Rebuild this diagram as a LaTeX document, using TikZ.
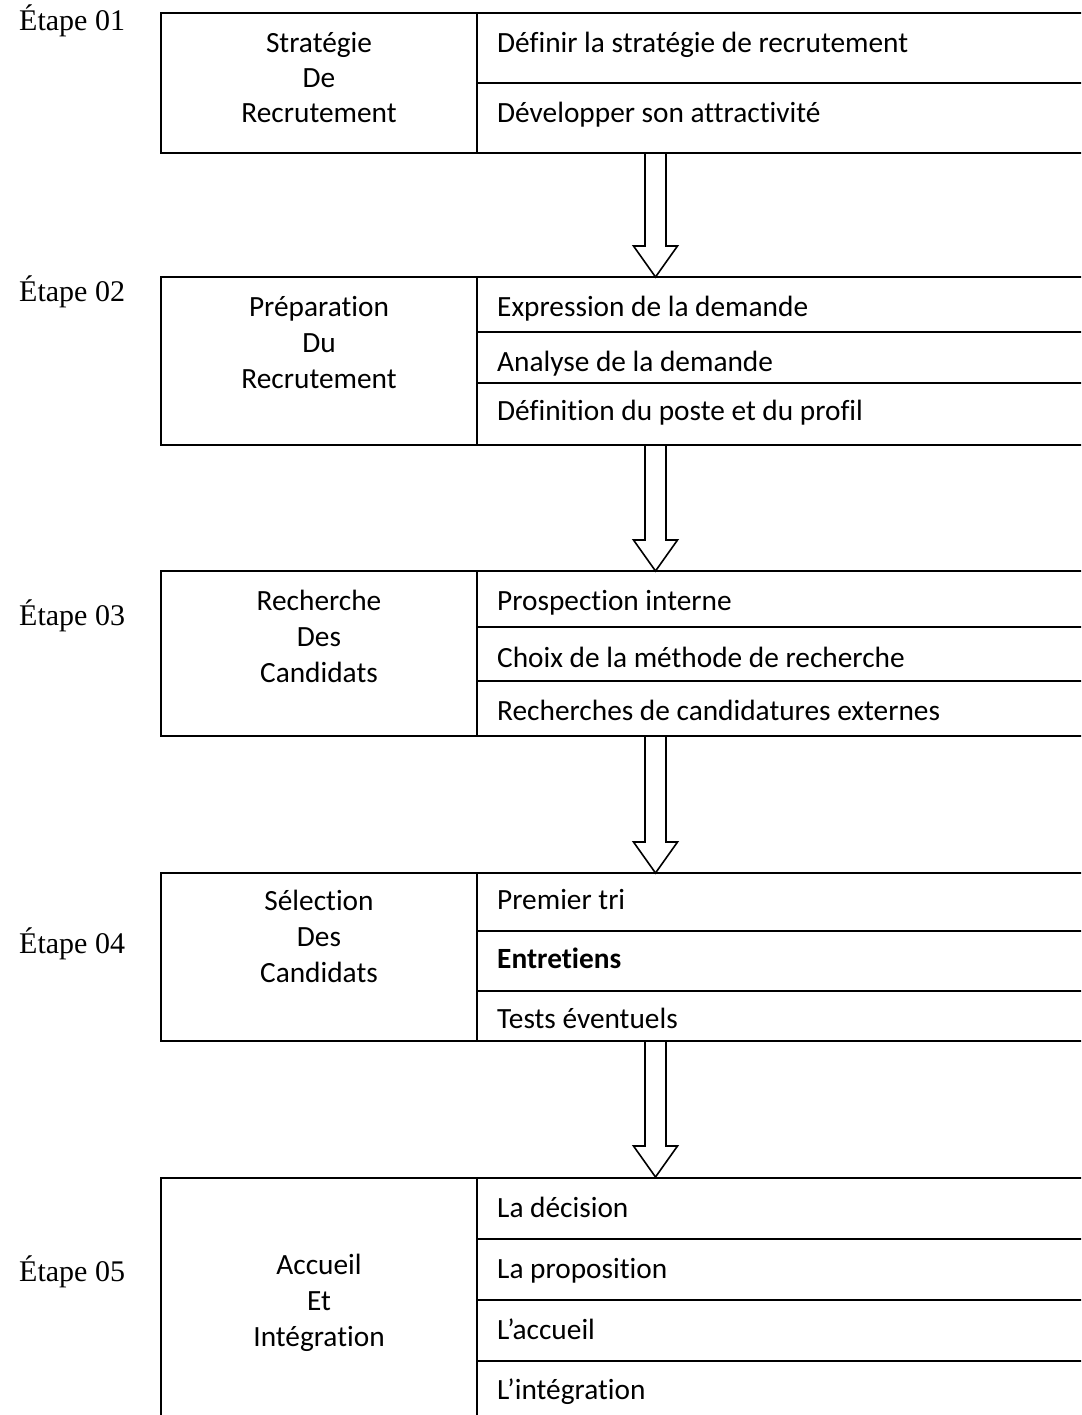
\documentclass[tikz,border=0pt]{standalone}
\usepackage{fontspec}
\setmainfont{Carlito}[Ligatures={NoCommon}]
\newfontfamily\timesf{Liberation Serif}
\usetikzlibrary{calc}
\begin{document}
\begin{tikzpicture}[x=1pt,y=-1pt,
  rule/.style={line width=1.8pt,black},
  item/.style={anchor=base west,inner sep=0pt,font=\fontsize{29.33}{35}\selectfont},
  head/.style={anchor=base,inner sep=0pt,font=\fontsize{29.33}{35}\selectfont},
  stage/.style={anchor=base west,inner sep=0pt,font=\timesf\fontsize{30}{36}\selectfont},
  blockarrow/.style={line width=1.6pt,line join=miter}]
\useasboundingbox (0,0) rectangle (1081,1415);
\fill[white] (0,0) rectangle (1081,1415);
\begin{scope}
\clip (0,0) rectangle (1081,1415);
% box 1
\draw[rule] (161,13) rectangle (1095,153);
\draw[rule] (477,13) -- (477,153);
\draw[rule] (477,83) -- (1095,83);
% box 2
\draw[rule] (161,277) rectangle (1095,445);
\draw[rule] (477,277) -- (477,445);
\draw[rule] (477,332) -- (1095,332);
\draw[rule] (477,383) -- (1095,383);
% box 3
\draw[rule] (161,571) rectangle (1095,736);
\draw[rule] (477,571) -- (477,736);
\draw[rule] (477,627) -- (1095,627);
\draw[rule] (477,681) -- (1095,681);
% box 4
\draw[rule] (161,873) rectangle (1095,1041);
\draw[rule] (477,873) -- (477,1041);
\draw[rule] (477,931) -- (1095,931);
\draw[rule] (477,991) -- (1095,991);
% box 5
\draw[rule] (161,1178) rectangle (1095,1440);
\draw[rule] (477,1178) -- (477,1440);
\draw[rule] (477,1239) -- (1095,1239);
\draw[rule] (477,1300) -- (1095,1300);
\draw[rule] (477,1361) -- (1095,1361);
\end{scope}

% connection points
\coordinate (s1) at (655.5,153);
\coordinate (n2) at (655.5,277);
\coordinate (s2) at (655.5,445);
\coordinate (n3) at (655.5,571);
\coordinate (s3) at (655.5,736);
\coordinate (n4) at (655.5,873);
\coordinate (s4) at (655.5,1041);
\coordinate (n5) at (655.5,1177);

\foreach \a/\b in {s1/n2,s2/n3,s3/n4,s4/n5}{
  \draw[blockarrow] ($(\a)+(-10.5,0)$) -- ($(\b)+(-10.5,-31)$) -- ($(\b)+(-22,-31)$)
    -- (\b) -- ($(\b)+(22,-31)$) -- ($(\b)+(10.5,-31)$) -- ($(\a)+(10.5,0)$);
}

% stage labels
\node[stage] (e1) at (19,31) {Étape 01};
\node[stage] (e2) at (19,301) {Étape 02};
\node[stage] (e3) at (19,625) {Étape 03};
\node[stage] (e4) at (19,953) {Étape 04};
\node[stage] (e5) at (19,1281) {Étape 05};

% box 1 texts
\node[head] (h1a) at (319,53) {Stratégie};
\node[head] (h1b) at (319,88) {De};
\node[head] (h1c) at (319,123) {Recrutement};
\node[item] (t11) at (497,53) {Définir la stratégie de recrutement};
\node[item] (t12) at (497,123) {Développer son attractivité};

% box 2 texts
\node[head] (h2a) at (319,316) {Préparation};
\node[head] (h2b) at (319,352) {Du};
\node[head] (h2c) at (319,388) {Recrutement};
\node[item] (t21) at (497,316) {Expression de la demande};
\node[item] (t22) at (497,371) {Analyse de la demande};
\node[item] (t23) at (497,420) {Définition du poste et du profil};

% box 3 texts
\node[head] (h3a) at (319,610) {Recherche};
\node[head] (h3b) at (319,646) {Des};
\node[head] (h3c) at (319,682) {Candidats};
\node[item] (t31) at (497,610) {Prospection interne};
\node[item] (t32) at (497,667) {Choix de la méthode de recherche};
\node[item] (t33) at (497,720) {Recherches de candidatures externes};

% box 4 texts
\node[head] (h4a) at (319,910) {Sélection};
\node[head] (h4b) at (319,946) {Des};
\node[head] (h4c) at (319,982) {Candidats};
\node[item] (t41) at (497,909) {Premier tri};
\node[item] (t42) at (497,968) {\bfseries Entretiens};
\node[item] (t43) at (497,1028) {Tests éventuels};

% box 5 texts
\node[head] (h5a) at (319,1274) {Accueil};
\node[head] (h5b) at (319,1310) {Et};
\node[head] (h5c) at (319,1346) {Intégration};
\node[item] (t51) at (497,1217) {La décision};
\node[item] (t52) at (497,1278) {La proposition};
\node[item] (t53) at (497,1339) {L’accueil};
\node[item] (t54) at (497,1399) {L’intégration};
\end{tikzpicture}
\end{document}
